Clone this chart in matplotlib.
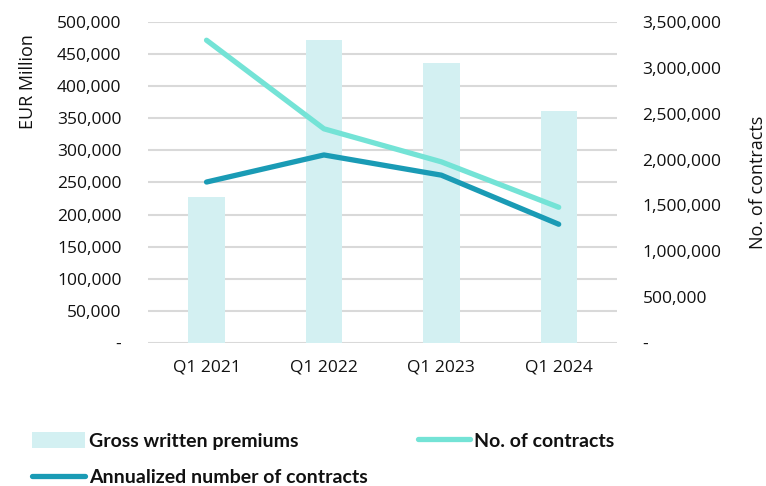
import matplotlib.pyplot as plt
from matplotlib.ticker import FuncFormatter, MultipleLocator
from matplotlib.patches import Patch
from matplotlib.lines import Line2D

quarters = ['Q1 2021', 'Q1 2022', 'Q1 2023', 'Q1 2024']
gross_premiums = [227000, 472000, 436000, 361000]
contracts = [3300000, 2335000, 1975000, 1480000]
annualized_contracts = [1755000, 2050000, 1830000, 1295000]

bar_color = '#d3f0f2'
light_color = '#74e3d6'
dark_color = '#1a9bb5'
grid_color = '#d9d9d9'
text_color = '#111111'

plt.rcParams['font.family'] = ['Open Sans', 'DejaVu Sans']

def thousands(v, pos):
    if v == 0:
        return '-'
    return '{:,.0f}'.format(v)

fig = plt.figure(figsize=(7.66, 4.86), dpi=100)
ax = fig.add_axes([0.193, 0.294, 0.613, 0.661])
x = range(len(quarters))

ax.bar(x, gross_premiums, width=0.31, color=bar_color, zorder=2)
ax.set_ylim(0, 500000)
ax.set_xlim(-0.5, 3.5)
ax.yaxis.set_major_locator(MultipleLocator(50000))
ax.yaxis.set_major_formatter(FuncFormatter(thousands))
ax.grid(axis='y', color=grid_color, linewidth=1.5, zorder=0)
ax.set_axisbelow(True)
ax.set_xticks(list(x))
ax.set_xticklabels(quarters)
ax.tick_params(length=0, labelsize=12.5, colors=text_color, pad=12)
ax.tick_params(axis='y', pad=19)
ax.set_ylabel('EUR Million', fontsize=13, color=text_color)
ax.yaxis.set_label_coords(-0.236, 0.815)
for s in ax.spines.values():
    s.set_visible(False)

ax2 = ax.twinx()
ax2.plot(x, contracts, color=light_color, linewidth=3.8, solid_capstyle='round', zorder=3)
ax2.plot(x, annualized_contracts, color=dark_color, linewidth=3.8, solid_capstyle='round', zorder=3)
ax2.set_ylim(0, 3500000)
ax2.yaxis.set_major_locator(MultipleLocator(500000))
ax2.yaxis.set_major_formatter(FuncFormatter(thousands))
ax2.tick_params(length=0, labelsize=12.5, colors=text_color, pad=18)
ax2.set_ylabel('No. of contracts', fontsize=13, color=text_color, labelpad=20)
for s in ax2.spines.values():
    s.set_visible(False)

handles = [
    Patch(facecolor=bar_color, edgecolor='none'),
    Line2D([], [], color=dark_color, linewidth=3.8, solid_capstyle='round'),
    Line2D([], [], color=light_color, linewidth=3.8, solid_capstyle='round'),
]
labels = ['Gross written premiums', 'Annualized number of contracts', 'No. of contracts']
fig.legend(handles, labels, ncol=2, loc='upper left', bbox_to_anchor=(0.032, 0.127),
           bbox_transform=fig.transFigure, frameon=False,
           prop={'family': ['Liberation Sans Narrow', 'Lato', 'DejaVu Sans'], 'weight': 'bold', 'size': 14},
           labelcolor=text_color,
           handlelength=2.7, handleheight=0.9, handletextpad=0.2, columnspacing=2.6,
           labelspacing=0.95, borderaxespad=0)

fig.savefig('out.png', dpi=100)
